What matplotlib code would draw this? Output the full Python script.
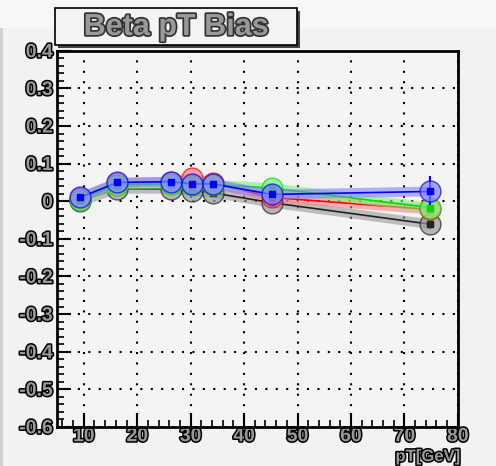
import numpy as np
import matplotlib.pyplot as plt
import matplotlib.patheffects as pe
from matplotlib.patches import Rectangle
from matplotlib.ticker import MultipleLocator

pt = [9.3, 16.3, 26.3, 30.2, 34.2, 45.2, 74.8]
bias_black = [0.000, 0.033, 0.033, 0.028, 0.022, -0.004, -0.061]
bias_red = [0.008, 0.048, 0.052, 0.062, 0.048, 0.010, -0.022]
bias_green = [0.004, 0.044, 0.046, 0.044, 0.044, 0.035, -0.017]
bias_blue = [0.010, 0.050, 0.052, 0.046, 0.046, 0.018, 0.026]
err_blue = [0.004, 0.004, 0.004, 0.004, 0.004, 0.006, 0.040]
err_other = [0.003, 0.003, 0.003, 0.003, 0.003, 0.005, 0.012]
xticks = [10, 20, 30, 40, 50, 60, 70, 80]
yticks = [-0.6, -0.5, -0.4, -0.3, -0.2, -0.1, 0, 0.1, 0.2, 0.3, 0.4]

series = [
    (bias_black, '#222222', '#999999'),
    (bias_red, '#ff0000', '#ff8080'),
    (bias_green, '#00dd00', '#80ee80'),
    (bias_blue, '#0000ff', '#8080ff'),
]

plt.rcParams['font.family'] = ['Liberation Sans', 'DejaVu Sans']
plt.rcParams['axes.unicode_minus'] = False
fig = plt.figure(figsize=(4.96, 4.66), dpi=100)
fig.patch.set_facecolor('#f2f2f2')
fig.patches.append(Rectangle((0, 0), 0.007, 1, transform=fig.transFigure,
                             facecolor='#cfcfcf', edgecolor='none'))
fig.patches.append(Rectangle((0, 0.94), 1, 0.06, transform=fig.transFigure,
                             facecolor='#f7f7f7', edgecolor='none'))
ax = fig.add_axes([0.115, 0.084, 0.808, 0.807])
ax.set_facecolor('#f4f4f4')

outline = [pe.withStroke(linewidth=2.2, foreground='black')]

for i, (vals, col, light) in enumerate(series):
    err = err_blue if col == '#0000ff' else err_other
    ax.plot(pt, vals, color=light, lw=7, alpha=0.6, solid_capstyle='round', zorder=2 + i)
    ax.plot(pt, vals, color=col, lw=1.2, zorder=3 + i)
    ax.errorbar(pt, vals, yerr=err, fmt='none', ecolor=col, elinewidth=1.5, zorder=3 + i)
    ax.plot(pt, vals, 'o', ms=15, mfc=light, mec=col, mew=1.0, alpha=0.7, zorder=4 + i)
    ax.plot(pt, vals, 's', ms=5, mfc=col, mec=col, zorder=5 + i)

ax.set_xlim(5, 80)
ax.set_ylim(-0.6, 0.4)
ax.xaxis.set_minor_locator(MultipleLocator(2))
ax.yaxis.set_minor_locator(MultipleLocator(0.02))
ax.set_xticks(xticks)
ax.set_yticks(yticks)
ax.set_xticklabels([str(v) for v in xticks])
ax.set_yticklabels(['%g' % v for v in yticks])
ax.tick_params(which='major', direction='in', length=10, width=1.5, top=False, right=False)
ax.tick_params(which='minor', direction='in', length=5, width=1.2, top=False, right=False)
ax.tick_params(axis='x', pad=1)
ax.tick_params(axis='y', pad=3)
ax.grid(True, which='major', color='black', ls=(0, (1, 4)), lw=1.5)
for lab in ax.get_xticklabels() + ax.get_yticklabels():
    lab.set_fontsize(14)
    lab.set_fontweight('bold')
    lab.set_color('#999999')
    lab.set_path_effects(outline)
for s in ax.spines.values():
    s.set_linewidth(2)

fig.text(0.927, 0.004, 'pT[GeV]', ha='right', va='bottom', fontsize=12, fontweight='bold',
         color='#999999', path_effects=outline)

# title box with shadow
fig.patches.append(Rectangle((0.117, 0.897), 0.488, 0.080, transform=fig.transFigure,
                             facecolor='#444444', edgecolor='none', zorder=5))
fig.patches.append(Rectangle((0.111, 0.903), 0.488, 0.080, transform=fig.transFigure,
                             facecolor='#f4f4f4', edgecolor='black', lw=1.2, zorder=6))
fig.text(0.355, 0.942, 'Beta pT Bias', ha='center', va='center', fontsize=22, fontweight='bold',
         color='#999999', path_effects=[pe.withStroke(linewidth=2.5, foreground='#333333')], zorder=7)

fig.savefig('out.png', dpi=100, facecolor=fig.get_facecolor())
